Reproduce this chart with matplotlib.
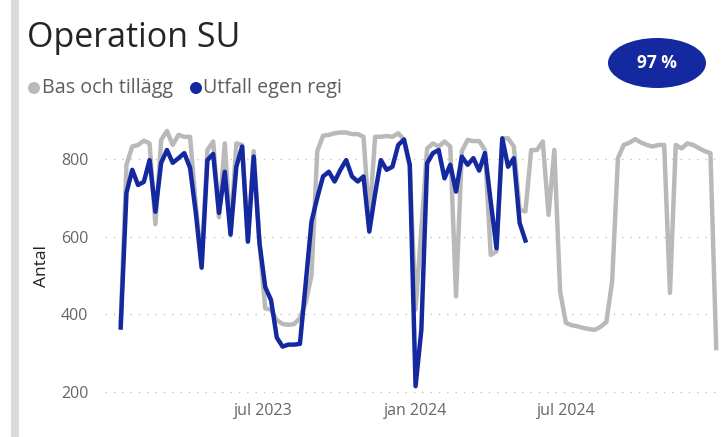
import matplotlib
matplotlib.use("Agg")
import matplotlib.pyplot as plt
from matplotlib.patches import Ellipse, Rectangle
import pandas as pd

title = "Operation SU"
series_names = ["Bas och tillägg", "Utfall egen regi"]
badge_text = "97 %"
y_label = "Antal"
start_date = "2023-01-09"

bas = [380, 785, 832, 836, 847, 840, 632, 849, 872, 836,
       862, 857, 857, 680, 530, 823, 845, 650, 840, 610,
       840, 836, 590, 820, 584, 415, 412, 385, 375, 373,
       375, 390, 430, 500, 820, 860, 862, 866, 868, 868,
       864, 864, 857, 640, 857, 857, 859, 857, 866, 850,
       780, 412, 620, 827, 840, 832, 845, 832, 446, 820,
       849, 846, 846, 823, 553, 562, 853, 853, 832, 669,
       665, 823, 823, 845, 656, 823, 459, 378, 372, 369,
       365, 362, 360, 368, 380, 485, 802, 836, 842, 851,
       842, 836, 832, 836, 836, 455, 836, 827, 840, 836,
       828, 820, 815, 313]

utfall = [366, 713, 772, 733, 741, 797, 664, 790, 823, 790,
          802, 815, 777, 660, 520, 797, 813, 661, 767, 605,
          780, 832, 587, 806, 584, 470, 437, 340, 317, 322,
          322, 324, 480, 639, 700, 755, 767, 742, 772, 797,
          755, 742, 755, 613, 710, 797, 772, 780, 836, 850,
          785, 215, 360, 789, 815, 823, 750, 785, 716, 806,
          785, 802, 770, 815, 690, 570, 853, 780, 802, 635,
          590]

y_ticks = [200, 400, 600, 800]
x_tick_dates = ["2023-07-01", "2024-01-01", "2024-07-01"]
x_tick_labels = ["jul 2023", "jan 2024", "jul 2024"]

dates_bas = pd.date_range(start_date, periods=len(bas), freq="7D")
dates_utf = dates_bas[:len(utfall)]

FONT = ["Open Sans", "DejaVu Sans"]
plt.rcParams["font.family"] = FONT

W, H = 725, 437
fig = plt.figure(figsize=(W / 100, H / 100), dpi=100)
fig.patch.set_facecolor("white")

# left accent bar
fig.add_artist(Rectangle((11 / W, 0), 8 / W, 1, transform=fig.transFigure,
                         facecolor="#DADADA", edgecolor="none"))

ax_l, ax_r, ax_t, ax_b = 105, 722, 121, 396
ax = fig.add_axes([ax_l / W, 1 - ax_b / H, (ax_r - ax_l) / W, (ax_b - ax_t) / H])

gray_c = "#B9B9B9"
blue_c = "#1428A0"
ax.plot(dates_bas, bas, color=gray_c, lw=3.2, solid_joinstyle="round", zorder=2)
ax.plot(dates_utf, utfall, color=blue_c, lw=3.2, solid_joinstyle="round", zorder=3)

ax.set_ylim(189.7, 897.7)
ax.set_xlim(pd.Timestamp("2022-12-21"), pd.Timestamp("2025-01-06"))
ax.set_yticks(y_ticks)
ax.set_xticks([pd.Timestamp(d) for d in x_tick_dates])
ax.set_xticklabels(x_tick_labels)
ax.yaxis.grid(True, linestyle=(0, (1, 5)), color="#C4C4C4", lw=1.0)
ax.xaxis.grid(False)
for s in ax.spines.values():
    s.set_visible(False)
ax.tick_params(axis="both", length=0, labelsize=11.5, labelcolor="#666666")
ax.tick_params(axis="y", pad=12)
ax.tick_params(axis="x", pad=5)

# y label
fig.text(42 / W, 1 - 266 / H, y_label, fontsize=12.5, color="#222222",
         rotation=90, ha="center", va="center")

# title
fig.text(27 / W, 1 - 47 / H, title, fontsize=24.5, color="#252423", ha="left", va="baseline")

# legend
fig.add_artist(Ellipse((34 / W, 1 - 88 / H), 12 / W, 12 / H, transform=fig.transFigure,
                       facecolor=gray_c, edgecolor="none"))
fig.text(42 / W, 1 - 88 / H, series_names[0], fontsize=14.2, color="#605E5C", ha="left", va="center")
fig.add_artist(Ellipse((196 / W, 1 - 88 / H), 12 / W, 12 / H, transform=fig.transFigure,
                       facecolor=blue_c, edgecolor="none"))
fig.text(203 / W, 1 - 88 / H, series_names[1], fontsize=14.2, color="#605E5C", ha="left", va="center")

# badge
fig.add_artist(Ellipse((657 / W, 1 - 63 / H), 98 / W, 50 / H, transform=fig.transFigure,
                       facecolor="#1428A0", edgecolor="none"))
fig.text(657 / W, 1 - 63 / H, badge_text, fontsize=12.5, color="white", fontweight="bold",
         ha="center", va="center")

fig.savefig("out.png", dpi=100)
